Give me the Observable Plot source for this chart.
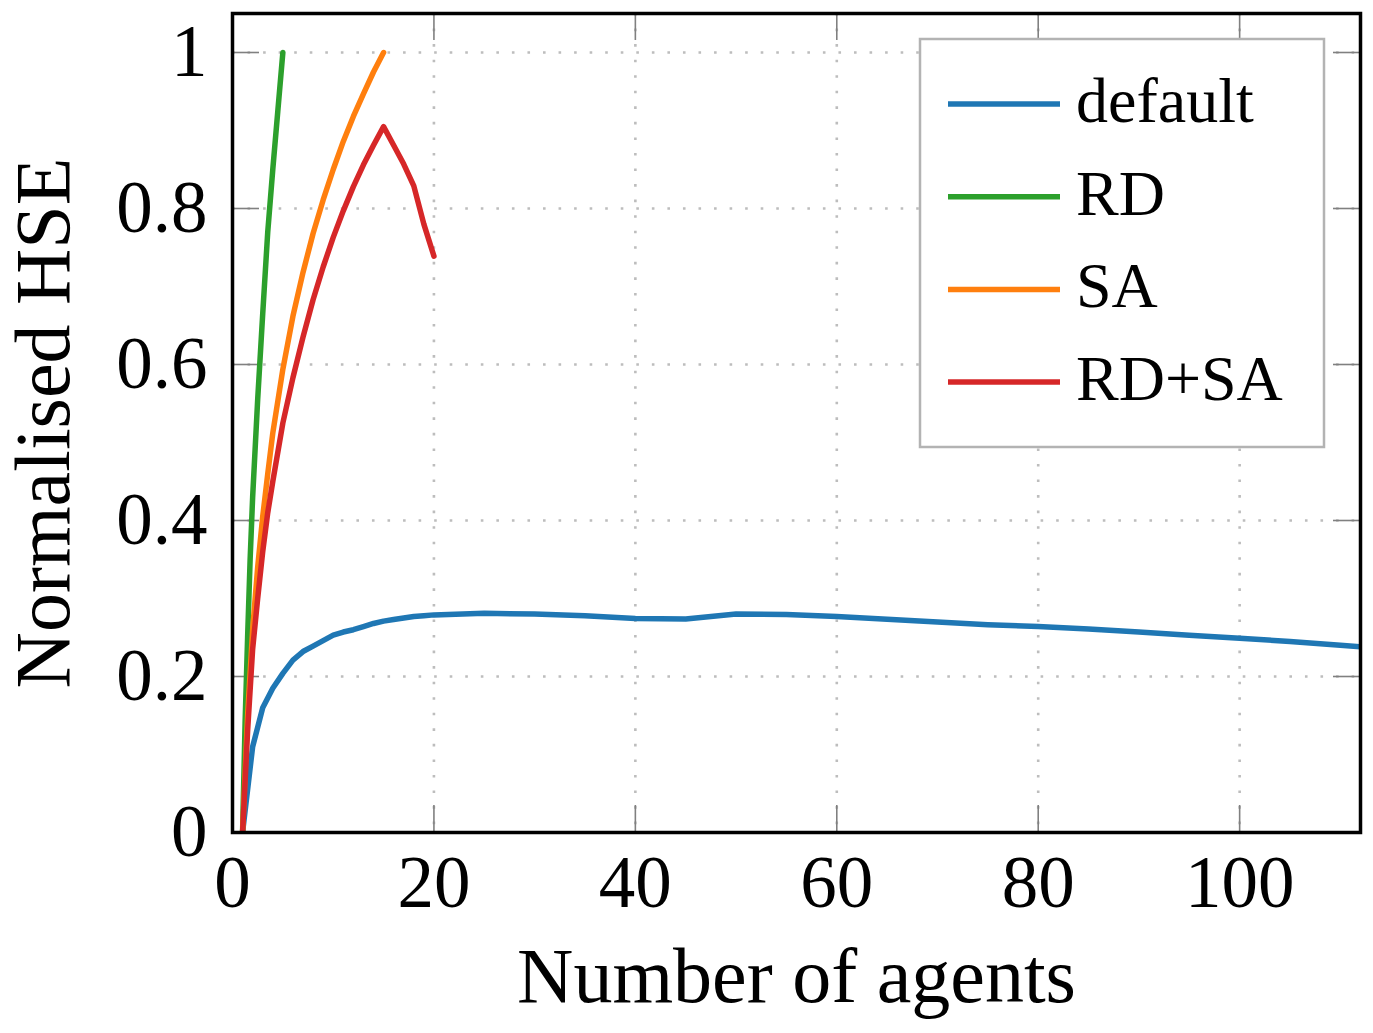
<!DOCTYPE html>
<html>
<head>
<meta charset="utf-8">
<script src="https://cdn.jsdelivr.net/npm/d3@7"></script>
<script src="https://cdn.jsdelivr.net/npm/@observablehq/plot@0.6"></script>
<style>
  body { margin: 0; background: #fff; }
  #chart { position: relative; width: 1373px; height: 1033px; }
</style>
</head>
<body>
<div id="chart"></div>
<script>
// Normalised HSE against number of agents, one array pair per configuration.
const agentsDefault = [1, 2, 3, 4, 5, 6, 7, 8, 9, 10, 11, 12, 13, 14, 15, 16, 17, 18, 19, 20,
  25, 30, 35, 40, 45, 50, 55, 60, 65, 70, 75, 80, 85, 90, 95, 100, 105, 110, 112];
const hseDefault = [0, 0.11, 0.16, 0.185, 0.204, 0.221, 0.232, 0.239, 0.246, 0.253, 0.257, 0.260, 0.264, 0.268, 0.271, 0.273, 0.275, 0.277, 0.278, 0.279,
  0.281, 0.280, 0.278, 0.2745, 0.2738, 0.280, 0.2795, 0.277, 0.2735, 0.270, 0.2665, 0.264, 0.261, 0.257, 0.253, 0.249, 0.245, 0.240, 0.238];

const agentsRD = [1, 1.25, 1.5, 1.75, 2, 2.5, 3, 3.5, 4, 4.5, 5];
const hseRD = [0, 0.14, 0.25, 0.35, 0.43, 0.555, 0.665, 0.77, 0.85, 0.925, 1.0];

const agentsSA = [1, 1.5, 2, 2.5, 3, 3.5, 4, 5, 6, 7, 8, 9, 10, 11, 12, 13, 14, 15];
const hseSA = [0, 0.15, 0.26, 0.34, 0.405, 0.46, 0.512, 0.594, 0.662, 0.718, 0.768, 0.811, 0.85, 0.886, 0.918, 0.947, 0.975, 1.0];

const agentsRDSA = [1, 1.5, 2, 2.5, 3, 3.5, 4, 5, 6, 7, 8, 9, 10, 11, 12, 13, 14, 15, 16, 17, 18, 19, 20];
const hseRDSA = [0, 0.13, 0.235, 0.30, 0.36, 0.41, 0.45, 0.525, 0.583, 0.635, 0.683, 0.725, 0.763, 0.797, 0.828, 0.856, 0.881, 0.905, 0.881, 0.857, 0.829, 0.780, 0.739];

const seriesNames = ["default", "RD", "SA", "RD+SA"];
const seriesColors = ["#1f77b4", "#2ca02c", "#ff7f0e", "#d62728"];
const xTicks = [0, 20, 40, 60, 80, 100];
const yTicks = [0, 0.2, 0.4, 0.6, 0.8, 1];

// Long-format table built from the arrays above
const rows = [];
[[agentsDefault, hseDefault], [agentsRD, hseRD], [agentsSA, hseSA], [agentsRDSA, hseRDSA]]
  .forEach(([xs, ys], i) => xs.forEach((x, j) => rows.push({series: seriesNames[i], agents: x, hse: ys[j]})));

const W = 1373, H = 1033;
const mL = 232, mR = 13, mT = 13, mB = 201;
const frameW = W - mL - mR, frameH = H - mT - mB;
const tickLen = 27;
const lineWidth = 5.5;
const font = "'Liberation Serif', 'DejaVu Serif', serif";
const gridStyle = {stroke: "#bdbdbd", strokeOpacity: 1, strokeWidth: 2.6, strokeDasharray: "2.6,12.95"};
const tickStyle = {stroke: "#808080", strokeWidth: 1.6};

const chart = Plot.plot({
  width: W,
  height: H,
  marginLeft: mL,
  marginRight: mR,
  marginTop: mT,
  marginBottom: mB,
  style: {fontFamily: font, background: "#fff", color: "#000"},
  x: {domain: [0, 112]},
  y: {domain: [0, 1.05]},
  color: {domain: seriesNames, range: seriesColors},
  marks: [
    Plot.gridX(xTicks.filter(d => d > 0), gridStyle),
    Plot.gridY(yTicks.filter(d => d > 0), gridStyle),
    // inward ticks on all four sides
    Plot.tickY(yTicks, {y: d => d, ...tickStyle, insetRight: frameW - tickLen}),
    Plot.tickY(yTicks, {y: d => d, ...tickStyle, insetLeft: frameW - tickLen}),
    Plot.tickX(xTicks, {x: d => d, ...tickStyle, insetTop: frameH - tickLen}),
    Plot.tickX(xTicks, {x: d => d, ...tickStyle, insetBottom: frameH - tickLen}),
    Plot.line(rows, {x: "agents", y: "hse", z: "series", stroke: "series", strokeWidth: lineWidth, clip: true}),
    Plot.frame({stroke: "#000", strokeWidth: 3.5}),
    Plot.axisX(xTicks, {tickSize: 0, tickPadding: 23, fontSize: 73, label: null, tickFormat: d => String(d)}),
    Plot.axisY(yTicks, {tickSize: 0, tickPadding: 25, fontSize: 73, label: null, tickFormat: d => String(d)}),
    Plot.text(["Number of agents"], {frameAnchor: "bottom", lineAnchor: "middle", textAnchor: "middle", dy: 145, fontSize: 78, fill: "#000"}),
    Plot.text(["Normalised HSE"], {frameAnchor: "left", lineAnchor: "middle", textAnchor: "middle", rotate: -90, dx: -188, fontSize: 78, fill: "#000"})
  ]
});

document.getElementById("chart").appendChild(chart);

// Legend box in the upper right of the frame
const svg = d3.select(chart);
const lg = svg.append("g").attr("font-family", font).attr("text-anchor", "start");
lg.append("rect")
  .attr("x", 920).attr("y", 39).attr("width", 404).attr("height", 408)
  .attr("fill", "#fff").attr("stroke", "#b3b3b3").attr("stroke-width", 2.5);
seriesNames.forEach((name, i) => {
  const cy = 104 + i * 92.7;
  lg.append("line")
    .attr("x1", 948).attr("x2", 1060).attr("y1", cy).attr("y2", cy)
    .attr("stroke", seriesColors[i]).attr("stroke-width", lineWidth);
  lg.append("text")
    .attr("x", 1076).attr("y", cy + 18)
    .attr("font-size", 64).attr("fill", "#000")
    .text(name);
});
</script>
</body>
</html>
